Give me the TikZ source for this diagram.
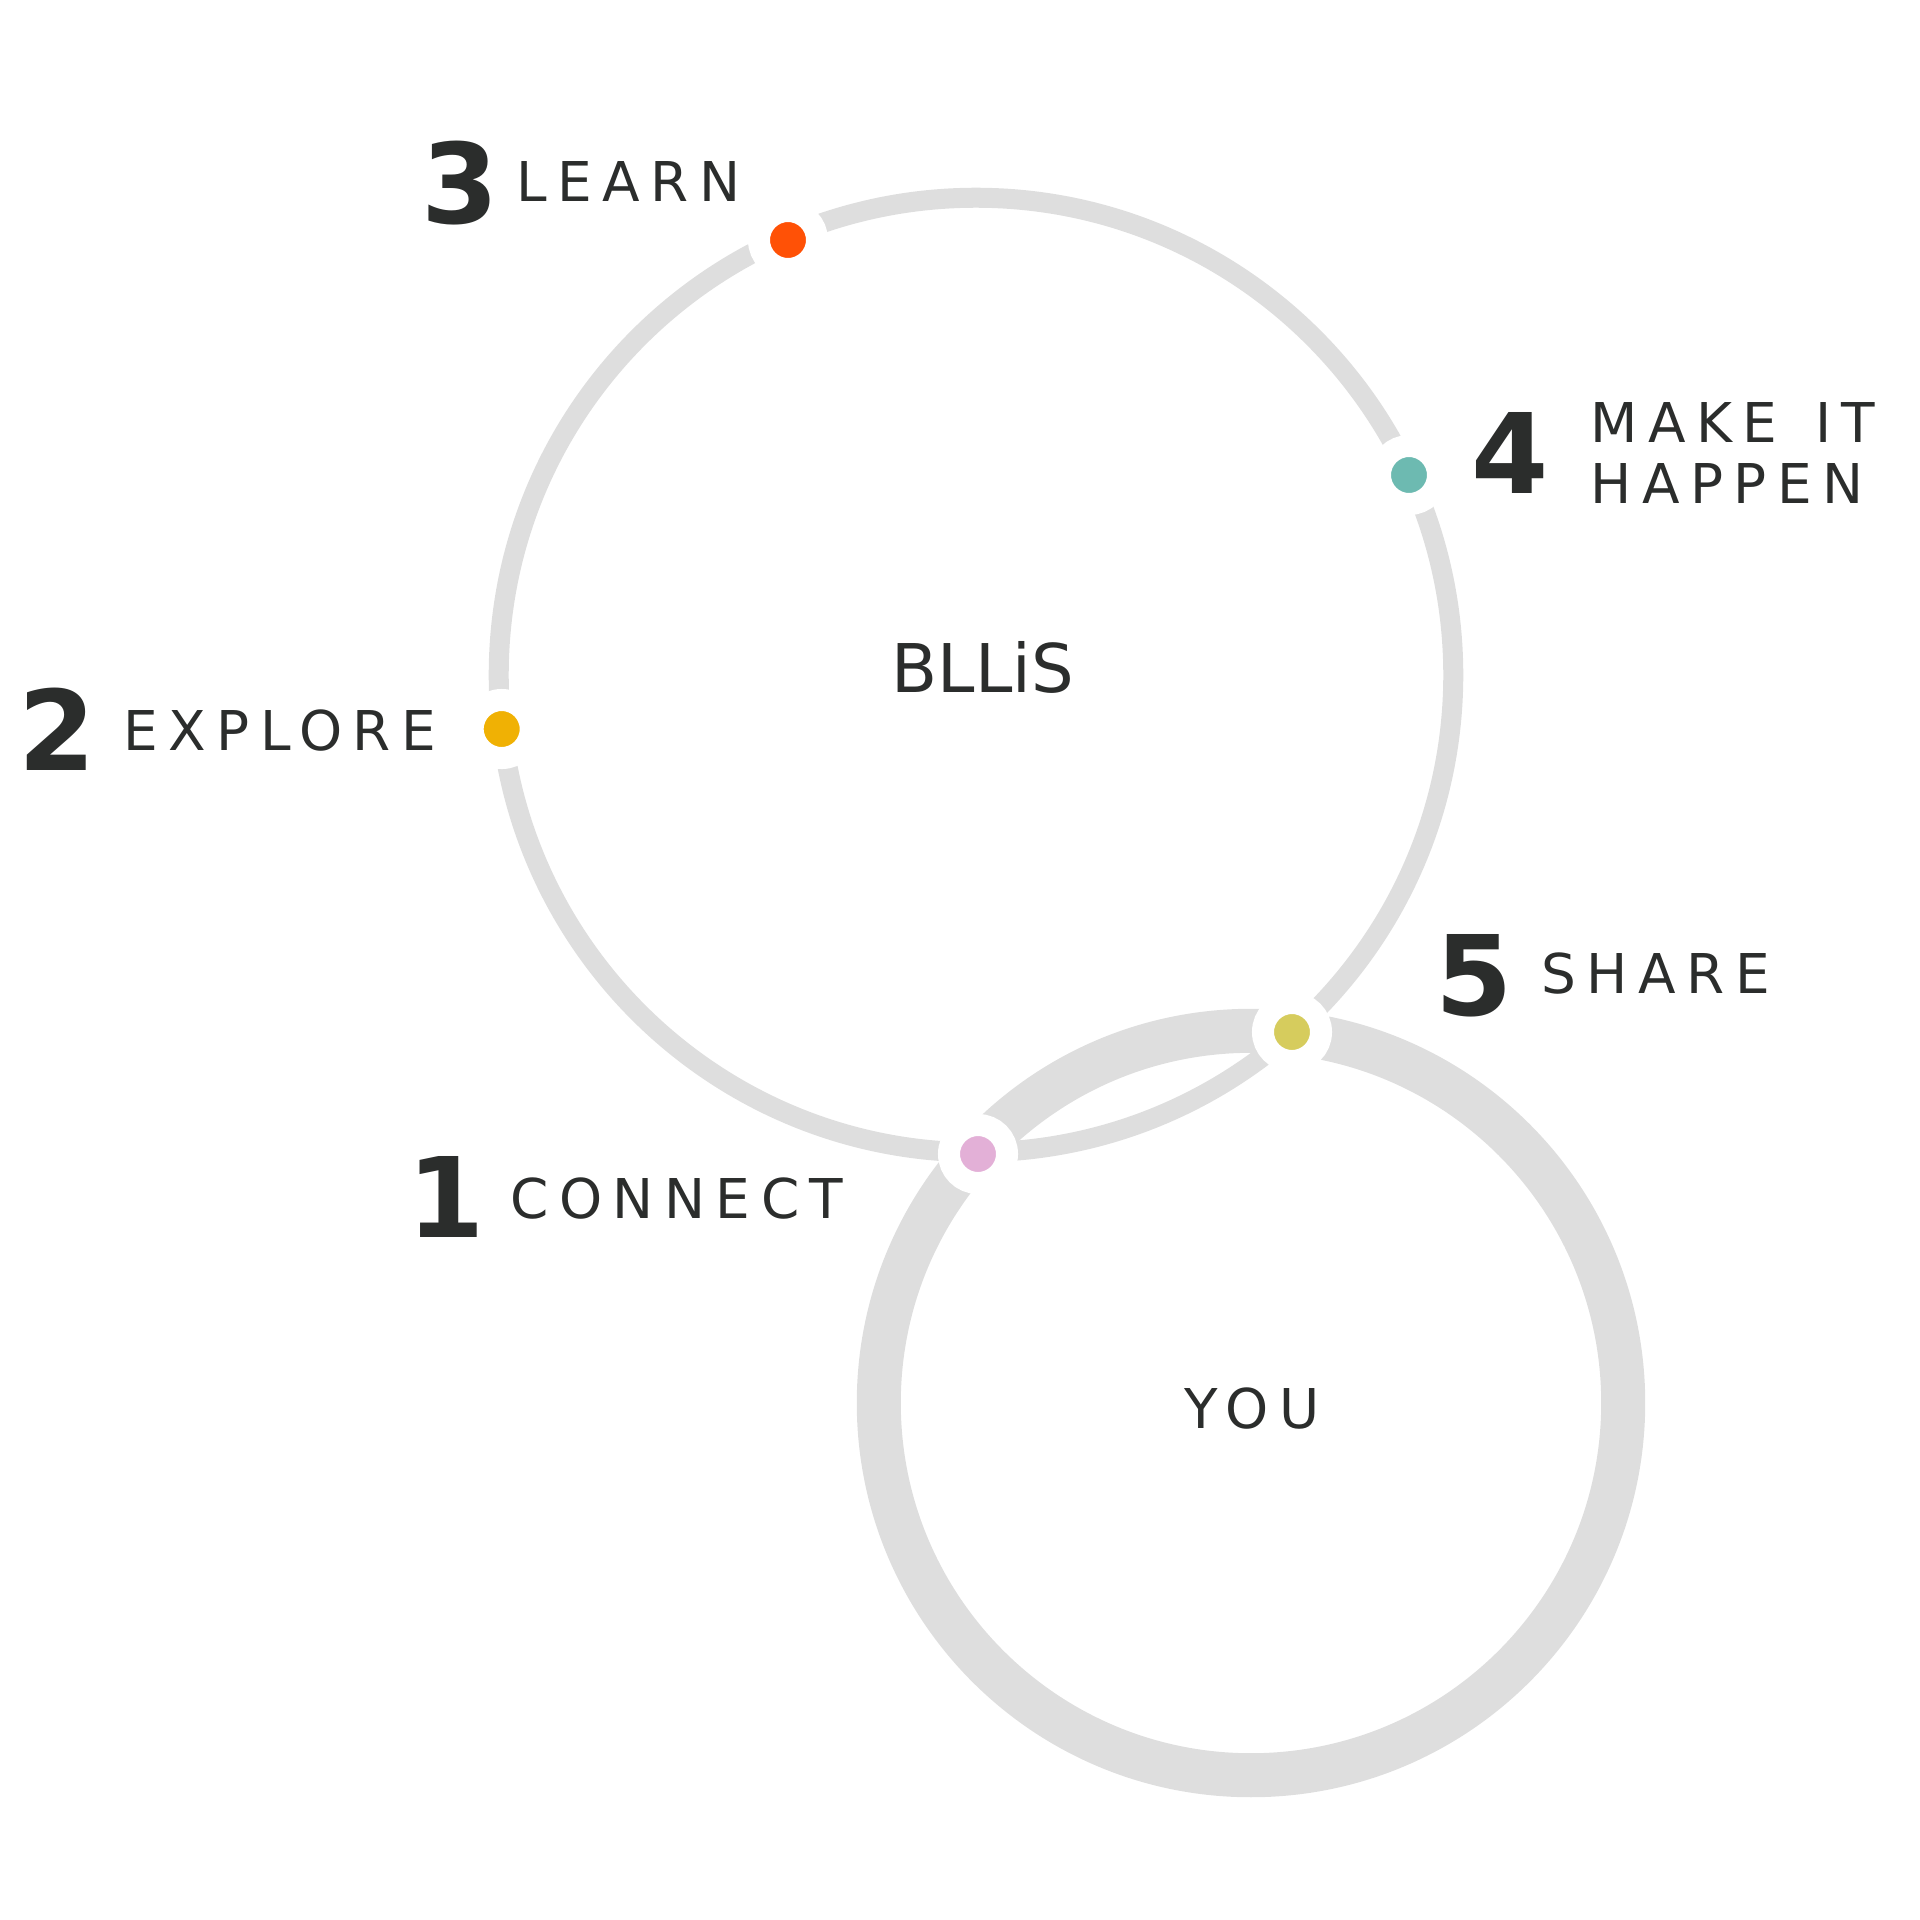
\documentclass[tikz,border=0pt]{standalone}
\usepackage{fontspec}
\setmainfont{DejaVu Sans}
\newfontfamily\lblfont[LetterSpace=19]{DejaVu Sans}
\newfontfamily\numfont{DejaVu Sans}
\definecolor{ringgrey}{HTML}{DEDEDE}
\definecolor{txt}{HTML}{2B2D2C}
\definecolor{cpink}{HTML}{E3B0D7}
\definecolor{cgold}{HTML}{F0B104}
\definecolor{cred}{HTML}{FF5106}
\definecolor{cteal}{HTML}{6DBAB1}
\definecolor{colive}{HTML}{D6CC5D}
\tikzset{
  dotnode/.style={circle, draw=white, line width=0.22cm, minimum size=0.58cm, inner sep=0pt, outer sep=0pt},
  numlbl/.style={anchor=base west, inner sep=0pt, text=txt, font=\numfont\bfseries\fontsize{31.6}{36}\selectfont},
  steplbl/.style={anchor=base west, inner sep=0pt, text=txt, align=left, font=\lblfont\fontsize{15.6}{17.35}\selectfont},
  centerlbl/.style={anchor=base, inner sep=0pt, text=txt}
}
\begin{document}
\begin{tikzpicture}[x=0.01cm,y=-0.01cm]
\useasboundingbox (0,0) rectangle (1920,1920);
% rings
\draw[ringgrey, line width=0.2cm] (976,675) circle (4.77cm);
\draw[ringgrey, line width=0.44cm] (1251,1403) circle (3.72cm);
% dots
\node[dotnode, fill=cpink]  (d1) at (978,1154) {};
\node[dotnode, fill=cgold]  (d2) at (501.7,729) {};
\node[dotnode, fill=cred]   (d3) at (788,240) {};
\node[dotnode, fill=cteal]  (d4) at (1409,475) {};
\node[dotnode, fill=colive] (d5) at (1292,1032) {};
% center texts
\node[centerlbl, font=\fontsize{19.1}{22}\selectfont] (bllis) at (983,692) {BLLiS};
\node[centerlbl, font=\lblfont\fontsize{15.6}{18}\selectfont] (you) at (1252,1428) {YOU};
% numbers
\node[numlbl] (n1) at (407,1237) {1};
\node[numlbl] (n2) at (18,770) {2};
\node[numlbl] (n3) at (421,223) {3};
\node[numlbl] (n4) at (1471,493) {4};
\node[numlbl] (n5) at (1434.5,1015) {5};
% labels
\node[steplbl] (l1) at (510,1218) {CONNECT};
\node[steplbl] (l2) at (123,750) {EXPLORE};
\node[steplbl] (l3) at (516,201) {LEARN};
\node[steplbl] (l4) at (1590,503) {MAKE\hspace{0.1cm} IT\\HAPPEN};
\node[steplbl] (l5) at (1541,993) {SHARE};
\end{tikzpicture}
\end{document}
